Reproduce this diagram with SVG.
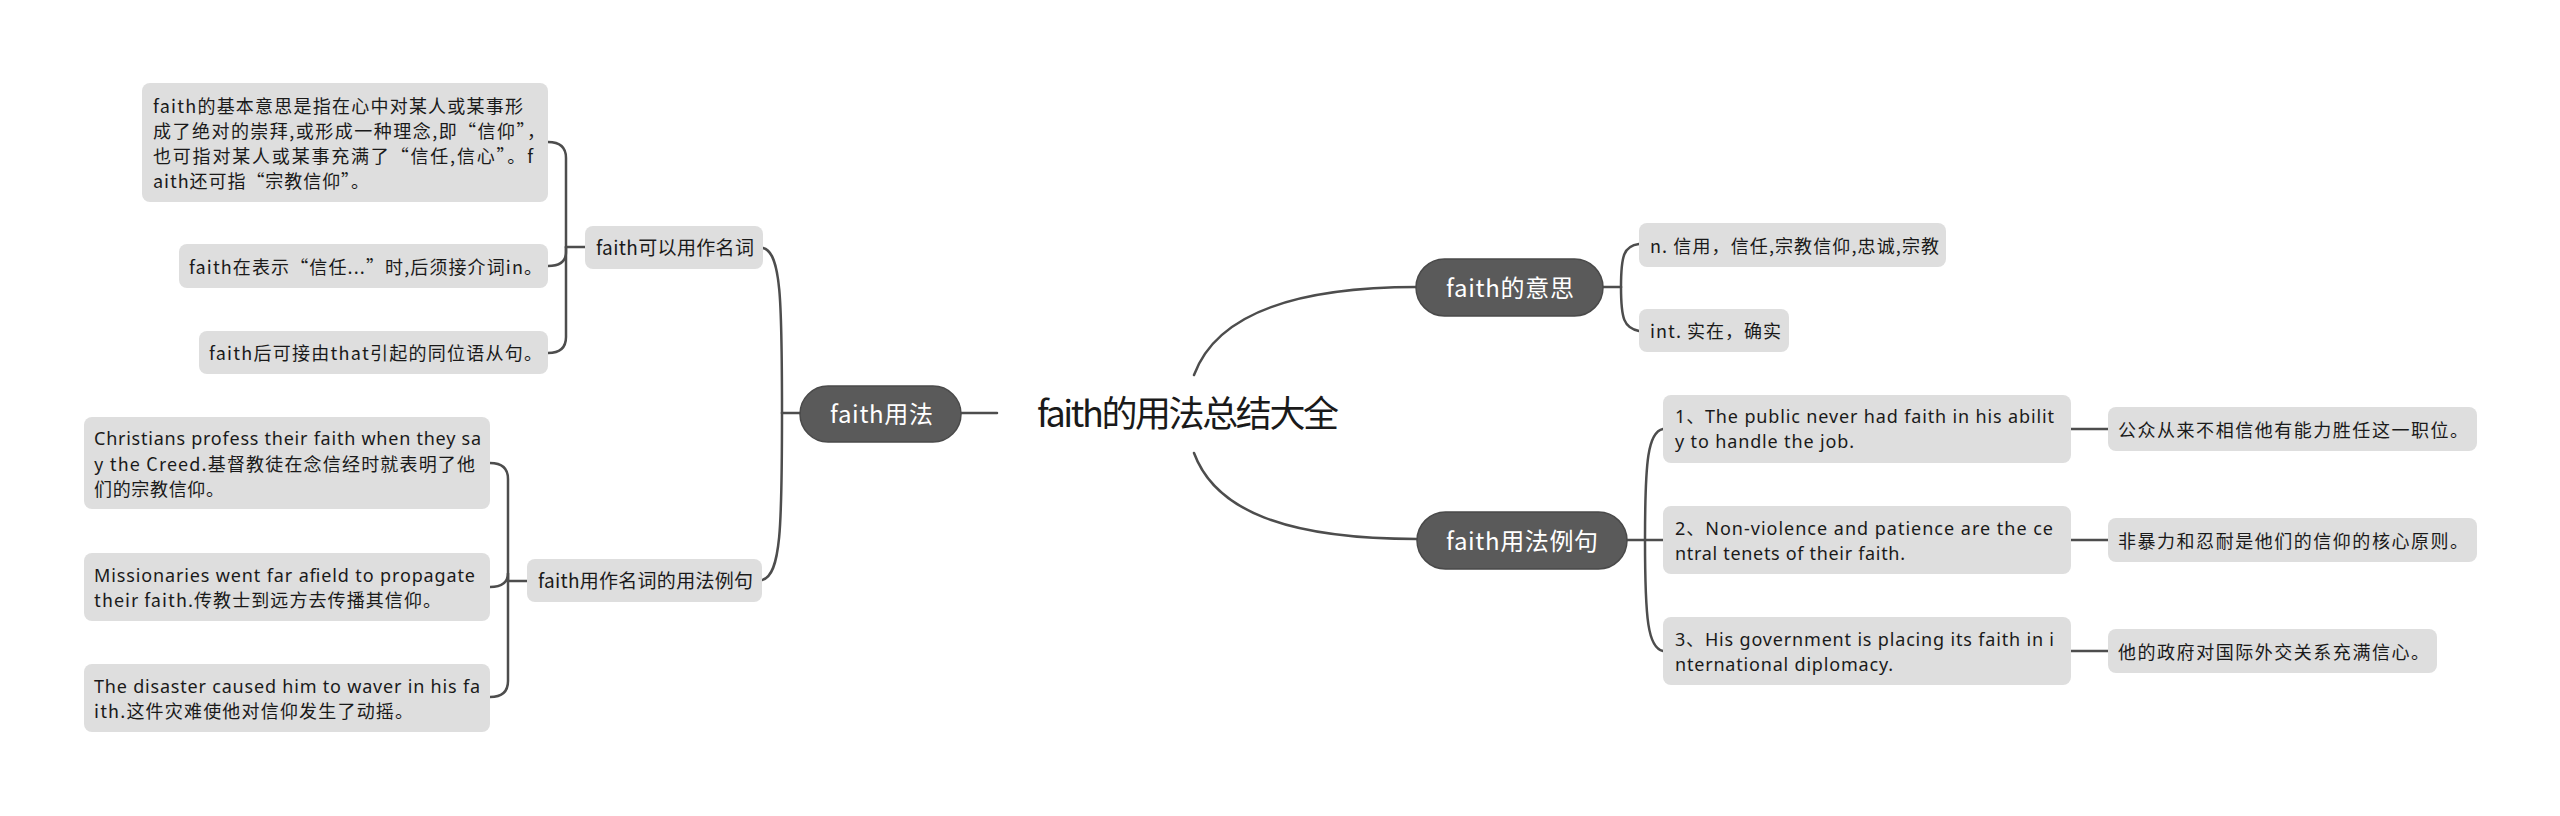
<svg xmlns="http://www.w3.org/2000/svg" width="2560" height="816" viewBox="0 0 2560 816">
<style>
text{font-family:"Noto Sans CJK SC","Noto Sans",sans-serif;fill:#1a1a1a}
.lat{font-family:"Noto Sans","Noto Sans CJK SC",sans-serif}
.leaf{fill:#dedede}
.main{fill:#5a5a5a;stroke:#4a4a4a;stroke-width:1.5}
.t18{font-size:18px}
.t19{font-size:19px}
.t24{font-size:24px;fill:#ffffff;text-anchor:middle}
.title{font-size:36px;fill:#1a1a1a}
.conn path{fill:none;stroke:#4d4d4d;stroke-width:2.5;stroke-linecap:round}
</style>
<rect width="2560" height="816" fill="#ffffff"/>
<g class="conn" id="connectors">
<path d="M1194,375 C1215,318 1285,287 1417,287"/>
<path d="M1194,453 C1215,510 1285,539 1417,539"/>
<path d="M961,413 L997,413"/>
<path d="M800,413 L782,413"/>
<path d="M782,413 C782,300 781,252 763,248"/>
<path d="M782,413 C782,526 781,576 762,580"/>
<path d="M566,247 L585,247"/>
<path d="M566,247 L566,158 Q566,142 548,142"/>
<path d="M566,247 L566,252 Q566,266 548,266"/>
<path d="M566,247 L566,337 Q566,353 548,353"/>
<path d="M508,581 L527,581"/>
<path d="M508,581 L508,479 Q508,463 490,463"/>
<path d="M508,581 L508,573 Q508,587 490,587"/>
<path d="M508,581 L508,681 Q508,697 490,697"/>
<path d="M1603,287 L1621,287"/>
<path d="M1621,287 C1621,255 1624,246 1639,244"/>
<path d="M1621,287 C1621,319 1624,328 1639,331"/>
<path d="M1627,540 L1645,540"/>
<path d="M1645,540 C1645,460 1648,432 1663,429"/>
<path d="M1645,540 L1663,540"/>
<path d="M1645,540 C1645,620 1648,648 1663,651"/>
<path d="M2071,429 L2108,429"/>
<path d="M2071,540 L2108,540"/>
<path d="M2071,651 L2108,651"/>
</g>
<g id="root">
<text class="title" x="1037" y="427" textLength="302" lengthAdjust="spacing">faith的用法总结大全</text>
</g>
<g id="n-usage">
<rect class="main" x="800" y="386" width="161" height="56" rx="28"/>
<text class="t24" x="881.5" y="423" textLength="103" lengthAdjust="spacing">faith用法</text>
</g>
<g id="n-noun">
<rect class="leaf" x="585" y="226" width="178" height="43" rx="8"/>
<text class="t19" x="596" y="255" textLength="158" lengthAdjust="spacing">faith可以用作名词</text>
</g>
<g id="n-noun-1">
<rect class="leaf" x="142" y="83" width="406" height="119" rx="8"/>
<text class="t18"><tspan x="153" y="113" textLength="370" lengthAdjust="spacing">faith的基本意思是指在心中对某人或某事形</tspan><tspan x="153" y="138" textLength="392" lengthAdjust="spacing">成了绝对的崇拜,或形成一种理念,即“信仰”，</tspan><tspan x="153" y="163" textLength="380" lengthAdjust="spacing">也可指对某人或某事充满了“信任,信心”。f</tspan><tspan x="153" y="188" textLength="216" lengthAdjust="spacing">aith还可指“宗教信仰”。</tspan></text>
</g>
<g id="n-noun-2">
<rect class="leaf" x="179" y="244" width="369" height="44" rx="8"/>
<text class="t18" x="189" y="274" textLength="353" lengthAdjust="spacing">faith在表示“信任...”时,后须接介词in。</text>
</g>
<g id="n-noun-3">
<rect class="leaf" x="199" y="331" width="349" height="43" rx="8"/>
<text class="t18" x="209" y="360" textLength="333" lengthAdjust="spacing">faith后可接由that引起的同位语从句。</text>
</g>
<g id="n-examples">
<rect class="leaf" x="527" y="559" width="235" height="43" rx="8"/>
<text class="t19" x="538" y="588" textLength="215" lengthAdjust="spacing">faith用作名词的用法例句</text>
</g>
<g id="n-ex-1">
<rect class="leaf" x="84" y="417" width="406" height="92" rx="8"/>
<text class="t18"><tspan class="lat" x="94" y="445" textLength="387" lengthAdjust="spacing">Christians profess their faith when they sa</tspan><tspan x="94" y="471" textLength="381" lengthAdjust="spacing">y the Creed.基督教徒在念信经时就表明了他</tspan><tspan x="94" y="496" textLength="130" lengthAdjust="spacing">们的宗教信仰。</tspan></text>
</g>
<g id="n-ex-2">
<rect class="leaf" x="84" y="553" width="406" height="68" rx="8"/>
<text class="t18"><tspan class="lat" x="94" y="582" textLength="381" lengthAdjust="spacing">Missionaries went far afield to propagate</tspan><tspan x="94" y="607" textLength="347" lengthAdjust="spacing">their faith.传教士到远方去传播其信仰。</tspan></text>
</g>
<g id="n-ex-3">
<rect class="leaf" x="84" y="664" width="406" height="68" rx="8"/>
<text class="t18"><tspan class="lat" x="94" y="693" textLength="386" lengthAdjust="spacing">The disaster caused him to waver in his fa</tspan><tspan x="94" y="718" textLength="319" lengthAdjust="spacing">ith.这件灾难使他对信仰发生了动摇。</tspan></text>
</g>
<g id="n-meaning">
<rect class="main" x="1416" y="259" width="187" height="57" rx="28.5"/>
<text class="t24" x="1510" y="297" textLength="128" lengthAdjust="spacing">faith的意思</text>
</g>
<g id="n-meaning-1">
<rect class="leaf" x="1639" y="223" width="307" height="44" rx="8"/>
<text class="t18" x="1650" y="253" textLength="289" lengthAdjust="spacing">n. 信用，信任,宗教信仰,忠诚,宗教</text>
</g>
<g id="n-meaning-2">
<rect class="leaf" x="1639" y="309" width="150" height="43" rx="8"/>
<text class="t18" x="1650" y="338" textLength="131" lengthAdjust="spacing">int. 实在，确实</text>
</g>
<g id="n-sentences">
<rect class="main" x="1417" y="512" width="210" height="57" rx="28.5"/>
<text class="t24" x="1522" y="550" textLength="152" lengthAdjust="spacing">faith用法例句</text>
</g>
<g id="n-s-1">
<rect class="leaf" x="1663" y="395" width="408" height="68" rx="8"/>
<text class="t18 lat"><tspan x="1675" y="423" textLength="379" lengthAdjust="spacing">1、The public never had faith in his abilit</tspan><tspan x="1675" y="448" textLength="179" lengthAdjust="spacing">y to handle the job.</tspan></text>
</g>
<g id="n-s-2">
<rect class="leaf" x="1663" y="506" width="408" height="68" rx="8"/>
<text class="t18 lat"><tspan x="1675" y="535" textLength="378" lengthAdjust="spacing">2、Non-violence and patience are the ce</tspan><tspan x="1675" y="560" textLength="230" lengthAdjust="spacing">ntral tenets of their faith.</tspan></text>
</g>
<g id="n-s-3">
<rect class="leaf" x="1663" y="617" width="408" height="68" rx="8"/>
<text class="t18 lat"><tspan x="1675" y="646" textLength="379" lengthAdjust="spacing">3、His government is placing its faith in i</tspan><tspan x="1675" y="671" textLength="218" lengthAdjust="spacing">nternational diplomacy.</tspan></text>
</g>
<g id="n-s-1-t">
<rect class="leaf" x="2108" y="407" width="369" height="44" rx="8"/>
<text class="t18" x="2118" y="437" textLength="350" lengthAdjust="spacing">公众从来不相信他有能力胜任这一职位。</text>
</g>
<g id="n-s-2-t">
<rect class="leaf" x="2108" y="518" width="369" height="44" rx="8"/>
<text class="t18" x="2118" y="548" textLength="350" lengthAdjust="spacing">非暴力和忍耐是他们的信仰的核心原则。</text>
</g>
<g id="n-s-3-t">
<rect class="leaf" x="2108" y="629" width="329" height="44" rx="8"/>
<text class="t18" x="2118" y="659" textLength="311" lengthAdjust="spacing">他的政府对国际外交关系充满信心。</text>
</g>
</svg>
